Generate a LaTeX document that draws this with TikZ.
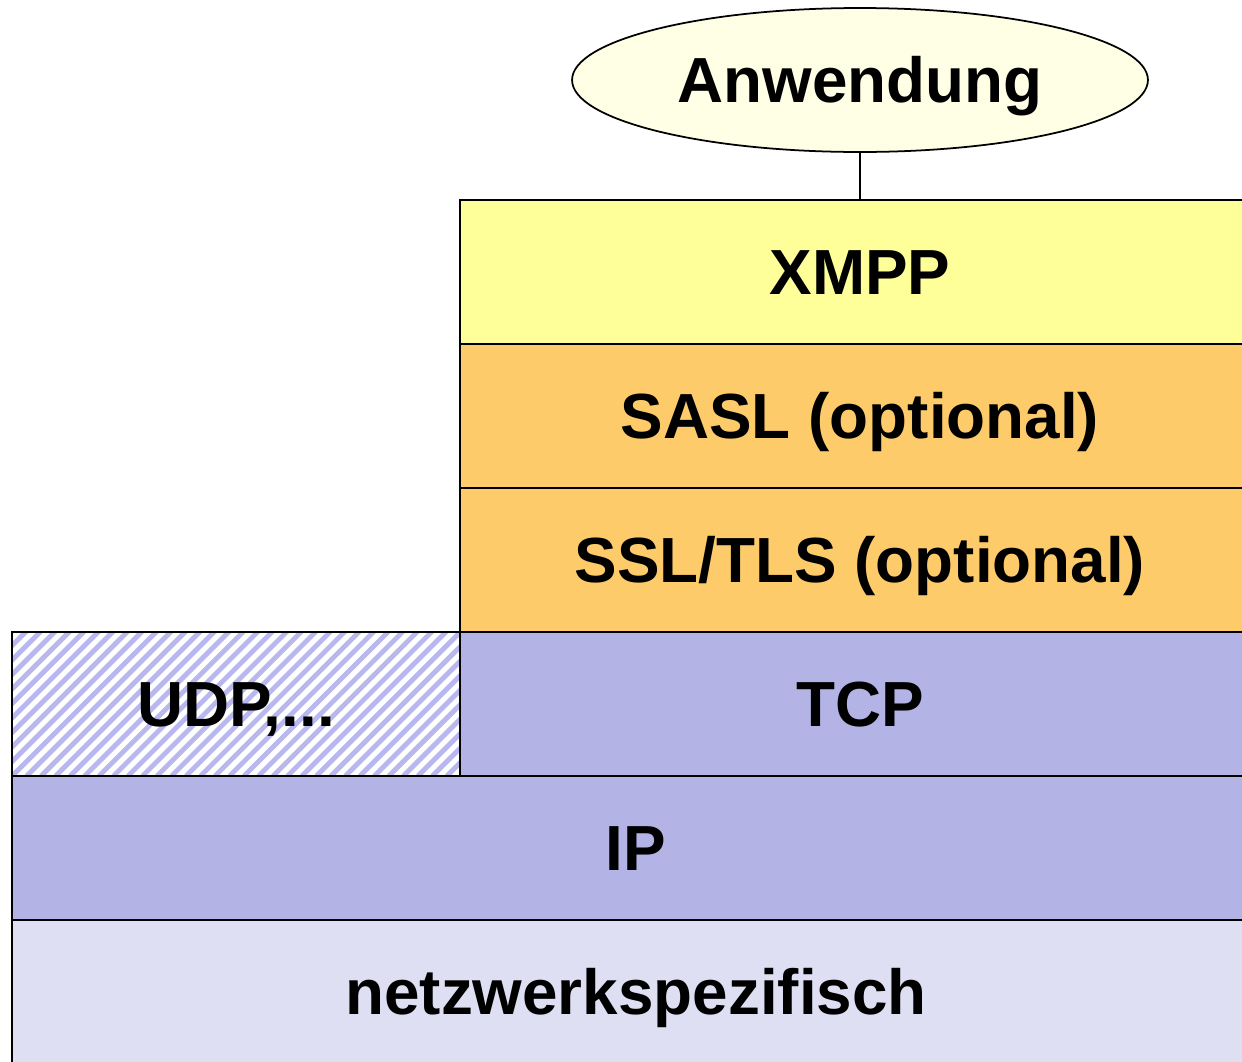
\documentclass[tikz,border=0pt]{standalone}
\usepackage{fontspec}
\setmainfont{Liberation Sans}
\usetikzlibrary{shapes.geometric}
\definecolor{xmppc}{HTML}{FFFF99}
\definecolor{saslc}{HTML}{FDCB69}
\definecolor{tcpc}{HTML}{B3B3E6}
\definecolor{netc}{HTML}{DFDFF4}
\definecolor{ellc}{HTML}{FFFFE6}
\definecolor{hatchc}{HTML}{B8B8EE}
\tikzset{
  bigfont/.style={font=\fontsize{36.3}{42}\selectfont\bfseries, text height=26pt, text depth=0pt},
  layer/.style={draw=black, line width=1.1pt, rectangle, inner sep=0pt, outer sep=0pt,
    minimum height=2.88cm, bigfont},
  hatched/.style={path picture={
    \foreach \k in {-20,...,40}
      \draw[hatchc, line width=2.8pt]
        ([xshift=\k*0.29cm]path picture bounding box.south west) -- ++(5cm,5cm);
  }},
}
\begin{document}
\begin{tikzpicture}[x=0.02cm,y=-0.02cm]
\useasboundingbox (0,0) rectangle (1242,1062);
\clip (0,0) rectangle (1242,1062);
\node[layer, fill=netc, minimum width=24.96cm] (net) at (636,992) {netzwerkspezifisch};
\node[layer, fill=tcpc, minimum width=24.96cm] (ip) at (636,848) {IP};
\node[layer, fill=tcpc, minimum width=16cm] (tcp) at (860,704) {TCP};
\node[layer, fill=white, hatched, minimum width=8.96cm] (udp) at (236,704) {UDP,...};
\node[layer, fill=saslc, minimum width=16cm] (ssl) at (860,560) {SSL/TLS (optional)};
\node[layer, fill=saslc, minimum width=16cm] (sasl) at (860,416) {SASL (optional)};
\node[layer, fill=xmppc, minimum width=16cm] (xmpp) at (860,272) {XMPP};
\node[ellipse, draw=black, line width=1pt, fill=ellc, inner sep=0pt,
  minimum width=11.52cm, minimum height=2.88cm, bigfont] (app) at (860,80) {Anwendung};
\draw[line width=1pt] (app.south) -- (xmpp.north);
\end{tikzpicture}
\end{document}
